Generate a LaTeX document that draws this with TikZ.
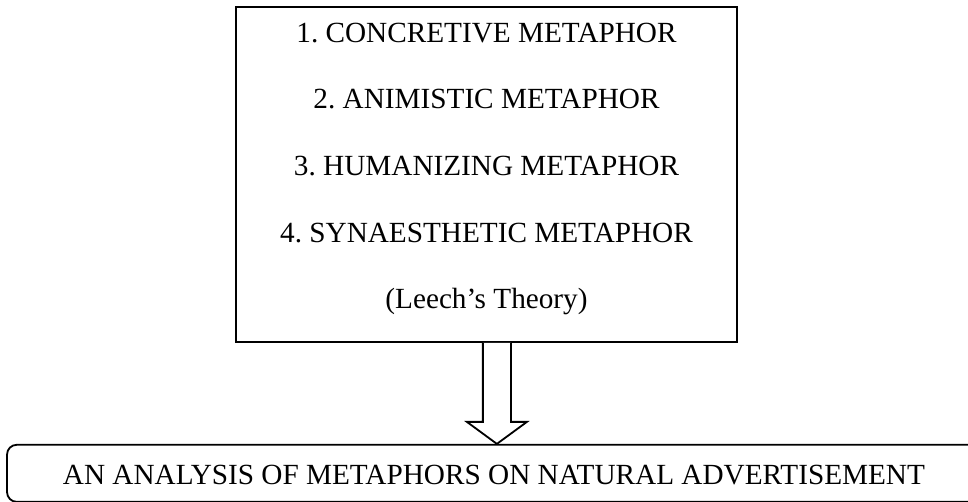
\documentclass[tikz,border=0pt]{standalone}
\usepackage{fontspec}
\setmainfont{Liberation Serif}
\frenchspacing
\usetikzlibrary{positioning,calc}
\tikzset{
  theorybox/.style={draw, line width=0.75pt, align=center, inner sep=0pt,
                    minimum width=207.3pt, text height=124.9pt, text depth=13.7pt,
                    font=\fontsize{12.1}{27.6}\selectfont},
  resultbox/.style={draw, line width=0.75pt, rounded corners=4pt, align=center,
                    minimum width=403pt, inner sep=0pt, text height=16.6pt, text depth=7pt,
                    font=\fontsize{12.1}{14}\selectfont},
  fatarrow/.style={draw, line width=0.75pt, fill=white}
}

\begin{document}
\begin{tikzpicture}[x=0.4138pt, y=-0.4138pt, node distance=41.8pt]
  \useasboundingbox (0,0) rectangle (968,502);
  \node[theorybox] (types) at (486.5,174.5) {1. CONCRETIVE METAPHOR\\
    2. ANIMISTIC METAPHOR\\
    3. HUMANIZING METAPHOR\\
    4. SYNAESTHETIC METAPHOR\\
    (Leech's Theory)};
  \node[resultbox, below=of types, xshift=3.1pt] (analysis) {AN ANALYSIS OF METAPHORS ON NATURAL ADVERTISEMENT};
  % hollow arrow between the two boxes
  \coordinate[xshift=4.3pt] (tail) at (types.south);
  \draw[fatarrow] ($(tail)+(-5.8pt,0)$) -- ($(tail |- analysis.north)+(-5.8pt,9.1pt)$)
    -- ++(-6.6pt,0) -- (tail |- analysis.north) -- ++(12.4pt,9.1pt) -- ++(-6.6pt,0)
    -- ($(tail)+(5.8pt,0)$);
\end{tikzpicture}
\end{document}
